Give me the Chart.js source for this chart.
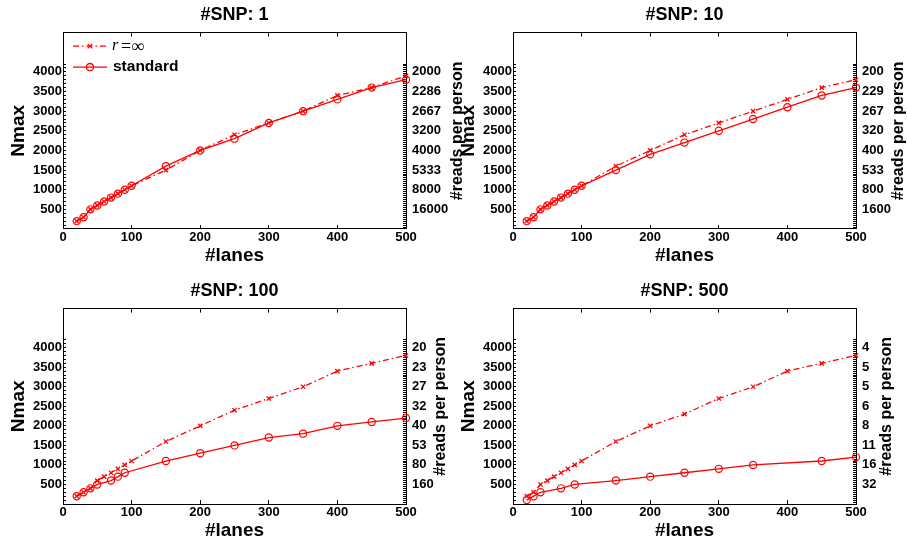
<!DOCTYPE html>
<html>
<head>
<meta charset="utf-8">
<script src="https://cdn.jsdelivr.net/npm/chart.js@4.4.1/dist/chart.umd.min.js"></script>
<style>
  html, body { margin: 0; padding: 0; background: #fff; }
  #wrap { position: relative; width: 907px; height: 546px; }
  #wrap canvas { position: absolute; left: 0; top: 0; }
</style>
</head>
<body>
<div id="wrap">
  <canvas id="c1" width="907" height="546"></canvas>
  <canvas id="c2" width="907" height="546"></canvas>
  <canvas id="c3" width="907" height="546"></canvas>
  <canvas id="c4" width="907" height="546"></canvas>
</div>
<script>
// #lanes used for most series
var lanes = [20, 30, 40, 50, 60, 70, 80, 90, 100, 150, 200, 250, 300, 350, 400, 450, 500];
var lanesStd100 = [20, 30, 40, 50, 70, 80, 90, 150, 200, 250, 300, 350, 400, 450, 500];
var lanesStd500 = [20, 30, 40, 70, 90, 150, 200, 250, 300, 350, 450, 500];

// Nmax, r = infinity
var infSnp1   = [200, 300, 500, 600, 700, 800, 900, 1000, 1100, 1500, 2000, 2400, 2700, 3000, 3400, 3600, 3900];
var infSnp10  = [200, 300, 500, 600, 700, 800, 900, 1000, 1100, 1600, 2000, 2400, 2700, 3000, 3300, 3600, 3800];
var infSnp100 = [200, 300, 400, 600, 700, 800, 900, 1000, 1100, 1600, 2000, 2400, 2700, 3000, 3400, 3600, 3800];
var infSnp500 = [200, 300, 500, 600, 700, 800, 900, 1000, 1100, 1600, 2000, 2300, 2700, 3000, 3400, 3600, 3800];

// Nmax, standard
var stdSnp1   = [200, 300, 500, 600, 700, 800, 900, 1000, 1100, 1600, 2000, 2300, 2700, 3000, 3300, 3600, 3800];
var stdSnp10  = [200, 300, 500, 600, 700, 800, 900, 1000, 1100, 1500, 1900, 2200, 2500, 2800, 3100, 3400, 3600];
var stdSnp100 = [200, 300, 400, 500, 600, 700, 800, 1100, 1300, 1500, 1700, 1800, 2000, 2100, 2200];
var stdSnp500 = [100, 200, 300, 400, 500, 600, 700, 800, 900, 1000, 1100, 1200];

// tick labels
var nmaxTicks = [500, 1000, 1500, 2000, 2500, 3000, 3500, 4000];
var reads1   = ['16000', '8000', '5333', '4000', '3200', '2667', '2286', '2000'];
var reads10  = ['1600', '800', '533', '400', '320', '267', '229', '200'];
var reads100 = ['160', '80', '53', '40', '32', '27', '23', '20'];
var reads500 = ['32', '16', '11', '8', '6', '5', '5', '4'];

var SANS = "'Liberation Sans', Arial, Helvetica, sans-serif";
var SERIF = "'Liberation Serif', 'Times New Roman', serif";
var RED = '#ff0000';

Chart.defaults.font.family = SANS;
Chart.defaults.color = '#000';

function pts(xs, ys) {
  return xs.map(function (x, i) { return { x: x, y: ys[i] }; });
}

// right axis title reads bottom-to-top, like the left one
var rightTitle = {
  id: 'rightTitle',
  afterDraw: function (chart, args, opts) {
    if (!opts.text) return;
    var ctx = chart.ctx, a = chart.chartArea;
    ctx.save();
    ctx.translate(a.right + opts.offset, (a.top + a.bottom) / 2);
    ctx.rotate(-Math.PI / 2);
    ctx.font = 'bold 16px ' + SANS;
    ctx.fillStyle = '#000';
    ctx.textAlign = 'center';
    ctx.textBaseline = 'middle';
    ctx.fillText(opts.text, 0, 0);
    ctx.restore();
  }
};

var legendBox = {
  id: 'legendBox',
  afterDraw: function (chart, args, opts) {
    if (!opts.show) return;
    var ctx = chart.ctx, a = chart.chartArea;
    var rows = [a.top + 13.5, a.top + 34.5];
    var x0 = a.left + 10, x1 = a.left + 44, xm = a.left + 27;
    ctx.save();
    chart.data.datasets.forEach(function (ds, i) {
      var y = rows[i];
      ctx.strokeStyle = ds.borderColor;
      ctx.lineWidth = ds.borderWidth;
      ctx.setLineDash(ds.borderDash || []);
      ctx.beginPath(); ctx.moveTo(x0, y); ctx.lineTo(x1, y); ctx.stroke();
      ctx.setLineDash([]);
      ctx.beginPath();
      if (ds.pointStyle === 'circle') {
        ctx.arc(xm, y, ds.pointRadius, 0, Math.PI * 2);
      } else {
        var r = ds.pointRadius * 0.75;
        ctx.moveTo(xm - r, y - r); ctx.lineTo(xm + r, y + r);
        ctx.moveTo(xm - r, y + r); ctx.lineTo(xm + r, y - r);
      }
      ctx.stroke();
      ctx.fillStyle = '#000';
      ctx.textBaseline = 'middle';
      ctx.textAlign = 'left';
      if (i === 0) {
        var parts = ds.label.split(' ');
        ctx.font = 'italic 16px ' + SERIF;
        ctx.fillText(parts[0], a.left + 49, y);
        ctx.font = '18px ' + SERIF;
        ctx.fillText(parts[1], a.left + 58, y + 1);
      } else {
        ctx.font = 'bold 15.5px ' + SANS;
        ctx.fillText(ds.label, a.left + 50, y);
      }
    });
    ctx.restore();
  }
};

function makePanel(id, title, stdX, stdY, infY, reads, pad, row, rtOffset, showLegend) {
  var tickFont = { size: 13, weight: 'bold' };
  var bottomH = row === 0 ? 44 : 42;
  var lanesPadBottom = row === 0 ? 6 : 3.6;
  var keep = function (scale) {
    scale.ticks = scale.ticks.filter(function (t) { return t.value <= 4200; });
  };
  new Chart(document.getElementById(id), {
    type: 'line',
    data: {
      datasets: [{
        label: 'r =∞',
        data: pts(lanes, infY),
        borderColor: RED,
        backgroundColor: 'transparent',
        borderWidth: 1.3,
        borderDash: [6, 3, 1.5, 3],
        pointStyle: 'crossRot',
        pointRadius: 3,
        pointBorderWidth: 1.3,
        pointBorderColor: RED,
        tension: 0,
        clip: false
      }, {
        label: 'standard',
        data: pts(stdX, stdY),
        borderColor: RED,
        backgroundColor: 'transparent',
        borderWidth: 1.3,
        pointStyle: 'circle',
        pointRadius: 3.6,
        pointBorderWidth: 1.2,
        pointBorderColor: RED,
        pointBackgroundColor: 'transparent',
        tension: 0,
        clip: false
      }]
    },
    options: {
      responsive: false,
      animation: false,
      events: [],
      layout: { autoPadding: false, padding: pad },
      plugins: {
        legend: { display: false },
        tooltip: { enabled: false },
        title: {
          display: true,
          text: title,
          fullSize: false,
          color: '#000',
          font: { size: 18, weight: 'bold' },
          padding: { top: 4, bottom: 4 }
        },
        rightTitle: { text: '#reads per person', offset: rtOffset },
        legendBox: { show: showLegend }
      },
      scales: {
        x: {
          type: 'linear', position: 'bottom', min: 0, max: 500,
          ticks: { stepSize: 100, font: tickFont, color: '#000', padding: 5 },
          grid: { drawOnChartArea: false, tickLength: -4, color: '#000' },
          border: { color: '#000', width: 1 },
          title: { display: true, text: '#lanes', color: '#000', font: { size: 19, weight: 'bold' }, padding: { top: 0, bottom: lanesPadBottom } },
          afterFit: function (s) { s.height = bottomH; }
        },
        xTop: {
          type: 'linear', position: 'top', min: 0, max: 500,
          ticks: { display: false, stepSize: 100 },
          grid: { drawOnChartArea: false, tickLength: -4, color: '#000' },
          border: { color: '#000', width: 1 },
          afterFit: function (s) { s.height = 3; }
        },
        y: {
          type: 'linear', position: 'left', min: 0, max: 5000,
          ticks: {
            stepSize: 100, autoSkip: false, font: tickFont, color: '#000', padding: 4,
            callback: function (v) { return nmaxTicks.indexOf(Math.round(v)) >= 0 ? String(Math.round(v)) : ''; }
          },
          afterBuildTicks: keep,
          grid: { drawOnChartArea: false, tickLength: -3, color: '#000' },
          border: { color: '#000', width: 1 },
          title: { display: true, text: 'Nmax', color: '#000', font: { size: 19, weight: 'bold' }, padding: { top: 7.6, bottom: 0 } },
          afterFit: function (s) { s.width = 63; }
        },
        yR: {
          type: 'linear', position: 'right', min: 0, max: 5000,
          ticks: {
            stepSize: 50, autoSkip: false, font: tickFont, color: '#000', padding: 9,
            callback: function (v) {
              var k = nmaxTicks.indexOf(Math.round(v));
              return k >= 0 ? reads[k] : '';
            }
          },
          afterBuildTicks: keep,
          grid: { drawOnChartArea: false, tickLength: -3, color: '#000' },
          border: { color: '#000', width: 1 },
          afterFit: function (s) { s.width = 45; }
        }
      }
    },
    plugins: [rightTitle, legendBox]
  });
}

makePanel('c1', '#SNP: 1', lanes, stdSnp1, infSnp1, reads1,
  { left: 0, right: 456, top: 0, bottom: 273 }, 0, 51.5, true);
makePanel('c2', '#SNP: 10', lanes, stdSnp10, infSnp10, reads10,
  { left: 450, right: 6, top: 0, bottom: 273 }, 0, 43, false);
makePanel('c3', '#SNP: 100', lanesStd100, stdSnp100, infSnp100, reads100,
  { left: 0, right: 456, top: 276, bottom: 0 }, 1, 34.5, false);
makePanel('c4', '#SNP: 500', lanesStd500, stdSnp500, infSnp500, reads500,
  { left: 450, right: 6, top: 276, bottom: 0 }, 1, 31, false);
</script>
</body>
</html>
